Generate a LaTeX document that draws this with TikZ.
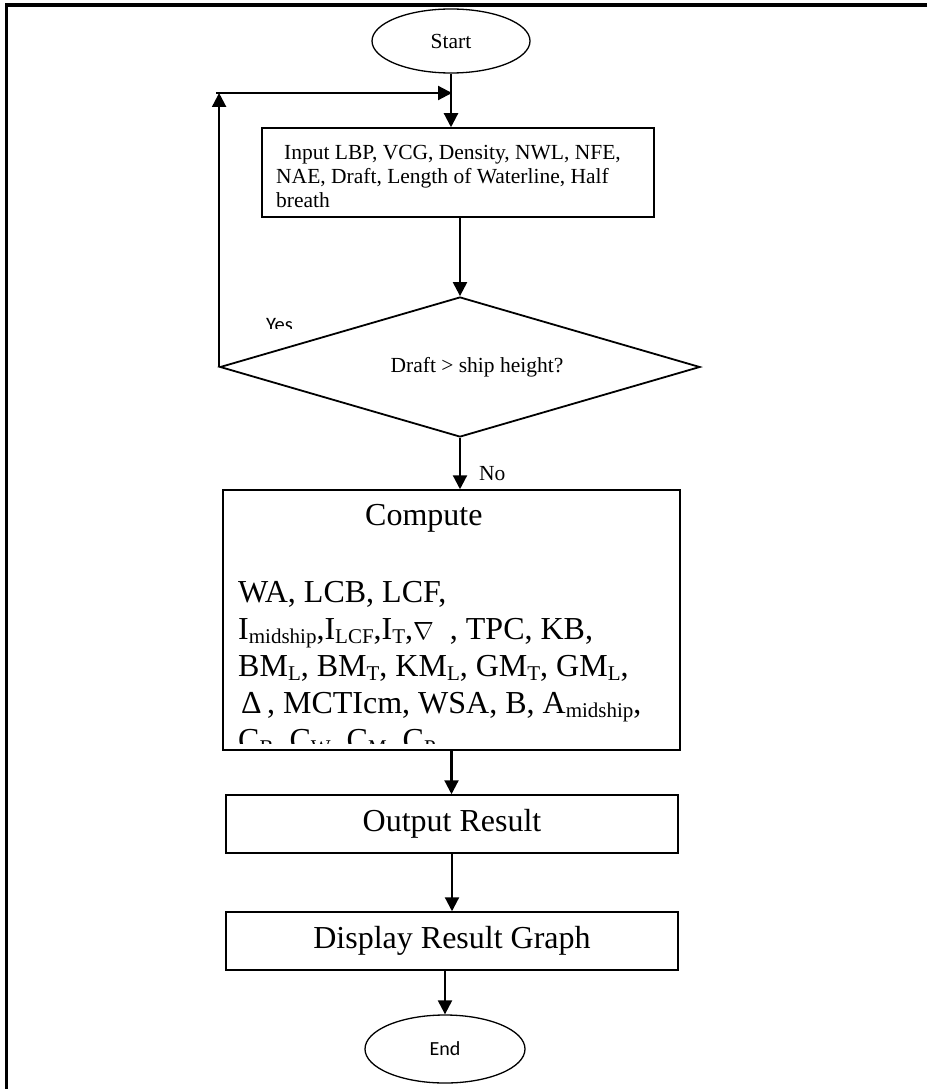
\documentclass[tikz,border=0pt]{standalone}
\usepackage{fontspec}
\setmainfont{Liberation Serif}
\newfontfamily\sansf{Carlito}
\usetikzlibrary{arrows.meta,shapes.geometric}
\newcommand\sbs[1]{\raisebox{-4pt}{\fontsize{21}{21}\selectfont #1}}
\tikzset{
  small/.style={font=\fontsize{21.5}{24}\selectfont, inner sep=0pt},
  big/.style={font=\fontsize{32}{37}\selectfont, inner sep=0pt},
  boxnode/.style={draw, line width=1.5pt, rectangle, inner sep=0pt},
  termnode/.style={draw, line width=1.3pt, ellipse, inner sep=0pt},
  decnode/.style={draw, line width=1.8pt, diamond, aspect=3.43, inner sep=0pt},
  conn/.style={line width=2.2pt, -{Triangle[length=14pt,width=14pt]}},
}
\begin{document}
\begin{tikzpicture}[x=1pt,y=-1pt]
\useasboundingbox (0,0) rectangle (927,1089);
% frame
\draw[line width=3.5pt, line join=miter] (927,5) -- (6.5,5) -- (6.5,1089);

% nodes
\node[termnode, minimum width=158pt, minimum height=64pt, small] (start) at (451,41) {Start};
\node[boxnode, minimum width=392pt, minimum height=89pt] (input) at (458,172.5) {};
\node[small, anchor=base west] (in1) at (284,159) {Input LBP, VCG, Density, NWL, NFE,};
\node[small, anchor=base west] (in2) at (276,183) {NAE, Draft, Length of Waterline, Half};
\node[small, anchor=base west] (in3) at (276,207) {breath};

\node[decnode, minimum width=480pt, minimum height=140pt] (dec) at (460,367) {};
\node[small] (dectext) at (477,367) {Draft {>} ship height?};

\node[boxnode, minimum width=457pt, minimum height=260pt] (compute) at (451.5,620) {};
\node[big, anchor=base west] (ctitle) at (365,525) {Compute};
\begin{scope}
\clip (224,491) rectangle (679,743);
\node[big, anchor=base west] (c1) at (238,602) {WA, LCB, LCF,};
\node[big, anchor=base west] (c2) at (238,639) {I\sbs{midship},I\sbs{LCF},I\sbs{T},$\nabla$\ \ , TPC, KB,};
\node[big, anchor=base west] (c3) at (238,676) {BM\sbs{L}, BM\sbs{T}, KM\sbs{L}, GM\sbs{T}, GM\sbs{L},};
\node[big, anchor=base west] (c4) at (241,713) {Δ\,, MCTIcm, WSA, B, A\sbs{midship},};
\node[big, anchor=base west] (c5) at (238,750) {C\sbs{B}, C\sbs{W}, C\sbs{M}, C\sbs{P}};
\end{scope}

\node[boxnode, minimum width=452pt, minimum height=58pt, big] (output) at (452,824) {Output Result};
\node[boxnode, minimum width=452pt, minimum height=58pt, big] (display) at (452,941) {Display Result Graph};
\node[termnode, minimum width=160pt, minimum height=68pt, font=\sansf\fontsize{20}{20}\selectfont] (end) at (445,1049) {End};

% labels
\begin{scope}
\clip (250,300) rectangle (320,328);
\node[font=\sansf\fontsize{20.5}{20}\selectfont, inner sep=0pt, anchor=base west] (yes) at (266,331) {Yes};
\end{scope}
\node[small, anchor=base west] (no) at (479,480) {No};

% connectors
\coordinate (loopc) at (221,93);
\coordinate (loopend) at (452,93);
\draw[conn] (start.south) -- (start.south |- input.north);
\draw[conn] (dec.west) -- (dec.west |- loopc);
\draw[conn] ([xshift=-3pt]dec.west |- loopc) -- (loopend);
\draw[conn] (input.south -| dec.north) -- (dec.north);
\draw[conn] (dec.south) -- (dec.south |- compute.north);
\draw[conn] (compute.south) -- (compute.south |- output.north);
\draw[conn] (output.south) -- (output.south |- display.north);
\draw[conn] (display.south -| end.north) -- (end.north);
\end{tikzpicture}
\end{document}
